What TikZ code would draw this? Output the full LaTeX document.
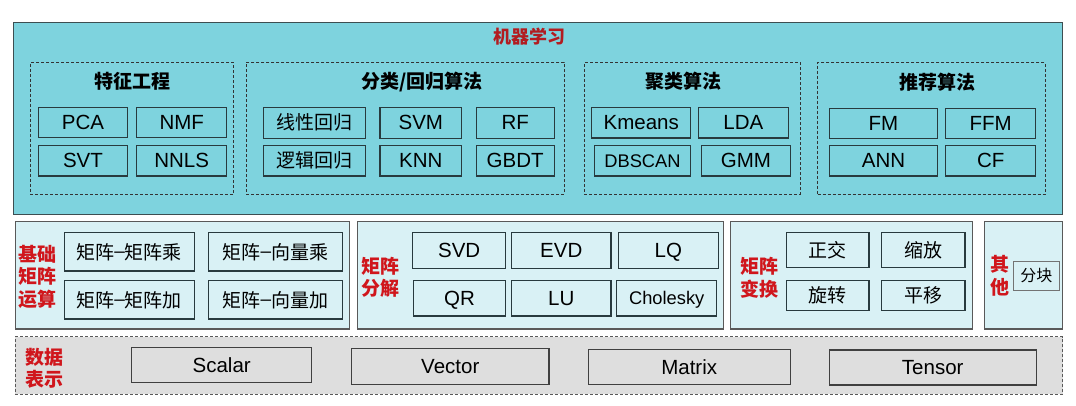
\documentclass[tikz,border=0pt]{standalone}
\usepackage{fontspec}
\setmainfont{Liberation Sans}
\newfontfamily\cjk{Noto Sans CJK SC}
\newfontfamily\lat{Liberation Sans}
\usetikzlibrary{positioning}

\definecolor{mlcyan}{RGB}{126,211,222}
\definecolor{panelcyan}{RGB}{217,241,245}
\definecolor{datagray}{RGB}{222,222,222}
\definecolor{titlered}{RGB}{178,28,32}
\definecolor{lblred}{RGB}{208,22,28}
\definecolor{edgedark}{RGB}{40,58,62}

\newcommand{\dsh}{{\lat\raisebox{0.06em}{–}}}

\begin{document}
\begin{tikzpicture}[x=1pt,y=-1pt,
   sz/.style 2 args={minimum width=#1pt,minimum height=#2pt},
   mlbox/.style={draw=edgedark!90,line width=1.4pt,fill=mlcyan,inner sep=0pt},
   grp/.style={draw=black!80,dash pattern=on 3pt off 2pt,line width=0.8pt,inner sep=0pt},
   panel/.style={draw=black!65,line width=1.1pt,fill=panelcyan,inner sep=0pt},
   datapanel/.style={draw=black!65,dash pattern=on 3pt off 2pt,line width=0.8pt,fill=datagray,inner sep=0pt},
   itm/.style={draw=edgedark,line width=1.1pt,inner sep=0pt,text depth=0pt,
     font=\fontsize{20.5}{22}\selectfont},
   citm/.style={draw=edgedark,line width=1.1pt,inner sep=0pt,
     font=\cjk\fontsize{19}{22}\selectfont},
   gtitle/.style={font=\cjk\bfseries\fontsize{19}{22}\selectfont,inner sep=0pt},
   sidelbl/.style={font=\cjk\bfseries\fontsize{19}{22.5}\selectfont,text=lblred,
     align=center,inner sep=0pt}]
  \fill[white] (0,0) rectangle (1076,405);
  \useasboundingbox (0,0) rectangle (1076,405);

  % machine learning layer
  \node[mlbox,sz={1049}{192}] (ml) at (538,118.2) {};
  \node[gtitle,text=titlered,font=\cjk\bfseries\fontsize{18}{22}\selectfont] (mltitle) at (529,36.7) {机器学习};

  \node[grp,sz={203.3}{132}] (feat) at (131.7,128.3) {};
  \node[gtitle] (feattitle) at (132.7,81.7) {特征工程};
  \node[itm,sz={89.4}{30.4}] (pca) at (83,122.7) {PCA};
  \node[itm,sz={90}{30.4}] (nmf) at (181.7,122.7) {NMF};
  \node[itm,sz={89.4}{30.4}] (svt) at (83,160.8) {SVT};
  \node[itm,sz={90}{30.4}] (nnls) at (181.7,160.8) {NNLS};

  \node[grp,sz={318}{132}] (cls) at (405.3,128.3) {};
  \node[gtitle] (clstitle) at (421.7,81.7) {分类/回归算法};
  \node[citm,sz={101.7}{30.8}] (linreg) at (314.2,122.7) {线性回归};
  \node[itm,sz={81.7}{30.8}] (svm) at (420.8,122.7) {SVM};
  \node[itm,sz={78.3}{30.8}] (rf) at (515.2,122.7) {RF};
  \node[citm,sz={101.7}{30.4}] (logreg) at (314.2,160.8) {逻辑回归};
  \node[itm,sz={81.7}{30.4}] (knn) at (420.8,160.8) {KNN};
  \node[itm,sz={78.3}{30.4}] (gbdt) at (515.2,160.8) {GBDT};

  \node[grp,sz={215.7}{132}] (clu) at (692.2,128.3) {};
  \node[gtitle] (clutitle) at (683.3,81.7) {聚类算法};
  \node[itm,sz={99}{30.6}] (kmeans) at (641.2,122.7) {Kmeans};
  \node[itm,sz={90}{30.6}] (lda) at (743.3,122.7) {LDA};
  \node[itm,sz={96.4}{30.4},font=\fontsize{18.3}{22}\selectfont] (dbscan) at (642.5,160.8) {DBSCAN};
  \node[itm,sz={89.4}{30.4}] (gmm) at (746,160.8) {GMM};

  \node[grp,sz={227.3}{132}] (rec) at (931.3,128.3) {};
  \node[gtitle] (rectitle) at (937,81.7) {推荐算法};
  \node[itm,sz={108.4}{30}] (fm) at (883.5,123.3) {FM};
  \node[itm,sz={90}{30}] (ffm) at (990.7,123.3) {FFM};
  \node[itm,sz={108.4}{30.4}] (ann) at (883.5,160.8) {ANN};
  \node[itm,sz={90}{30.4}] (cf) at (990.7,160.8) {CF};

  % matrix operation layer
  \node[panel,sz={334.3}{107.3}] (basic) at (182.2,275.3) {};
  \node[sidelbl] (basiclbl) at (38,276.8) {基础\\矩阵\\运算};
  \node[citm,sz={129.7}{38.3},fill=panelcyan] (mmmul) at (129.2,251.8) {矩阵\dsh 矩阵乘};
  \node[citm,sz={134}{38.3},fill=panelcyan] (mvmul) at (275.3,251.8) {矩阵\dsh 向量乘};
  \node[citm,sz={129.7}{38.3},fill=panelcyan] (mmadd) at (129.2,299.8) {矩阵\dsh 矩阵加};
  \node[citm,sz={134}{38.3},fill=panelcyan] (mvadd) at (275.3,299.8) {矩阵\dsh 向量加};

  \node[panel,sz={366}{107.3}] (decomp) at (540.3,275.3) {};
  \node[sidelbl] (decomplbl) at (380.5,277.2) {矩阵\\分解};
  \node[itm,sz={93}{35.6},fill=panelcyan] (svd) at (459.2,250.5) {SVD};
  \node[itm,sz={99.3}{35.6},fill=panelcyan] (evd) at (561.3,250.5) {EVD};
  \node[itm,sz={100}{35.6},fill=panelcyan] (lq) at (668.3,250.5) {LQ};
  \node[itm,sz={92.4}{35.3},fill=panelcyan] (qr) at (459.5,298.3) {QR};
  \node[itm,sz={99.3}{35.3},fill=panelcyan] (lu) at (561.3,298.3) {LU};
  \node[itm,sz={100}{35.3},fill=panelcyan,font=\fontsize{18.3}{22}\selectfont] (chol) at (666.7,298.3) {Cholesky};

  \node[panel,sz={241.6}{107.3}] (trans) at (851.5,275.3) {};
  \node[sidelbl] (translbl) at (759.3,278) {矩阵\\变换};
  \node[citm,sz={82.3}{34.6},fill=panelcyan] (orth) at (827.8,250) {正交};
  \node[citm,sz={83.3}{34.6},fill=panelcyan] (scale) at (923.3,250) {缩放};
  \node[citm,sz={82.3}{30}, fill=panelcyan] (rot) at (827.8,295.7) {旋转};
  \node[citm,sz={83.3}{30}, fill=panelcyan] (shift) at (923.3,295.7) {平移};

  \node[panel,sz={78.4}{107.3}] (other) at (1023.5,275.3) {};
  \node[sidelbl] (otherlbl) at (1000,275.8) {其\\他};
  \node[citm,sz={46}{28.3},fill=panelcyan,draw=black!55,line width=0.9pt,
    font=\cjk\fontsize{16}{20}\selectfont] (block) at (1036.3,275.8) {分块};

  % data layer
  \node[datapanel,sz={1047.7}{57.6}] (data) at (538.8,365.5) {};
  \node[sidelbl] (datalbl) at (44,368.3) {数据\\表示};
  \node[itm,sz={180}{35.4},fill=datagray,draw=black!75] (scalar) at (221.7,365) {Scalar};
  \node[itm,sz={197.3}{35.7},fill=datagray,draw=black!75] (vector) at (450.3,366.2) {Vector};
  \node[itm,sz={201.7}{34.7},fill=datagray,draw=black!75] (matrix) at (689.2,366.7) {Matrix};
  \node[itm,sz={206.7}{35}, fill=datagray,draw=black!75] (tensor) at (932.7,367.5) {Tensor};
\end{tikzpicture}
\end{document}
